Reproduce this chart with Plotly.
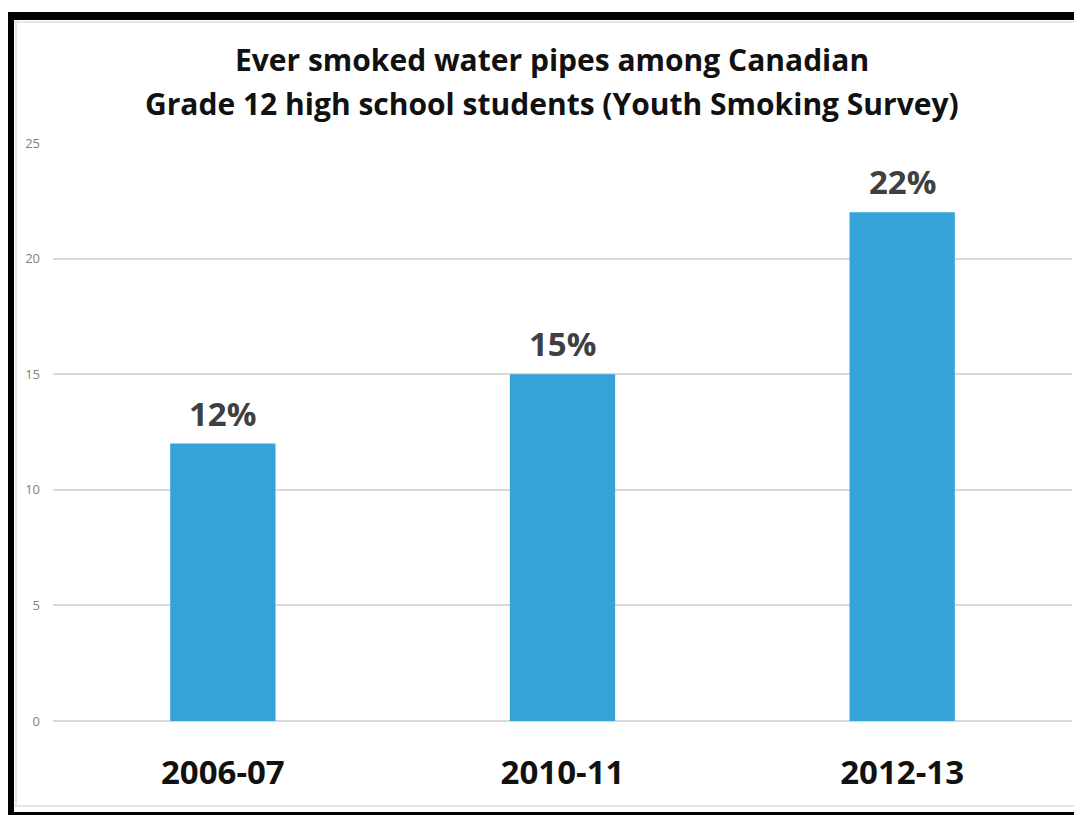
import plotly.graph_objects as go

categories = ["2006-07", "2010-11", "2012-13"]
values = [12, 15, 22]
labels = ["12%", "15%", "22%"]
y_ticks = [0, 5, 10, 15, 20, 25]
title_lines = ["Ever smoked water pipes among Canadian",
               "Grade 12 high school students (Youth Smoking Survey)"]

# page body offset of the rendered figure
O = 8
W, H = 1082 - O, 815 - O
ML, MT = 53 - O, 143 - O
MR = W - (1072 - O)
MB = H - (721 - O)
PW, PH = W - ML - MR, H - MT - MB

def px(x):
    return (x - O - ML) / PW

def py(y):
    return (H - MB - (y - O)) / PH

fig = go.Figure()
fig.add_trace(go.Bar(
    x=categories, y=values,
    marker=dict(color="#35a2d8", line=dict(width=0)),
    width=0.31, hoverinfo="x+y",
))

annotations = [
    dict(x=c, y=v, text=t, xref="x", yref="y", showarrow=False,
         yanchor="bottom", yshift=6,
         font=dict(family="Open Sans", size=33, color="#404040", weight="bold"))
    for c, v, t in zip(categories, values, labels)
]
annotations.append(dict(
    x=px(552), y=py(103), xref="paper", yref="paper", text=title_lines[1],
    showarrow=False, xanchor="center", yanchor="middle",
    font=dict(family="Open Sans", size=30, color="#111111", weight="bold")))

shapes = [
    dict(type="rect", xref="paper", yref="paper", x0=px(0), x1=px(1090), y0=py(20), y1=py(12),
         fillcolor="black", line=dict(width=0), layer="above"),
    dict(type="rect", xref="paper", yref="paper", x0=px(6), x1=px(14), y0=py(820), y1=py(12),
         fillcolor="black", line=dict(width=0), layer="above"),
    dict(type="rect", xref="paper", yref="paper", x0=px(6), x1=px(1090), y0=py(815), y1=py(812),
         fillcolor="black", line=dict(width=0), layer="above"),
    dict(type="line", xref="paper", yref="paper", x0=px(14), x1=px(1090), y0=py(22), y1=py(22),
         line=dict(color="#e6e6e6", width=2)),
    dict(type="line", xref="paper", yref="paper", x0=px(16), x1=px(16), y0=py(806), y1=py(20),
         line=dict(color="#e6e6e6", width=2)),
    dict(type="line", xref="paper", yref="paper", x0=px(14), x1=px(1090), y0=py(806), y1=py(806),
         line=dict(color="#e6e6e6", width=2)),
]

fig.update_layout(
    width=W, height=H,
    margin=dict(l=ML, r=MR, t=MT, b=MB),
    paper_bgcolor="white", plot_bgcolor="white",
    title=dict(
        text=title_lines[0],
        x=(552 - O) / W, xanchor="center", y=1 - (60 - O) / H, yanchor="middle",
        font=dict(family="Open Sans", size=30, color="#111111", weight="bold"),
    ),
    showlegend=False,
    shapes=shapes,
    annotations=annotations,
)
fig.update_xaxes(
    type="category",
    tickfont=dict(family="Open Sans", size=33, color="#111111", weight="bold"),
    showgrid=False, showline=False, ticks="", ticklabelstandoff=29,
)
fig.update_yaxes(
    range=[0, 25], tickvals=y_ticks, showgrid=True, gridcolor="#d9d9d9", gridwidth=1.5,
    zeroline=True, zerolinecolor="#d9d9d9", zerolinewidth=1.5,
    tickfont=dict(family="Open Sans", size=13, color="#808080"), ticklabelstandoff=12,
    showline=False,
)
fig.write_html("out.html")
